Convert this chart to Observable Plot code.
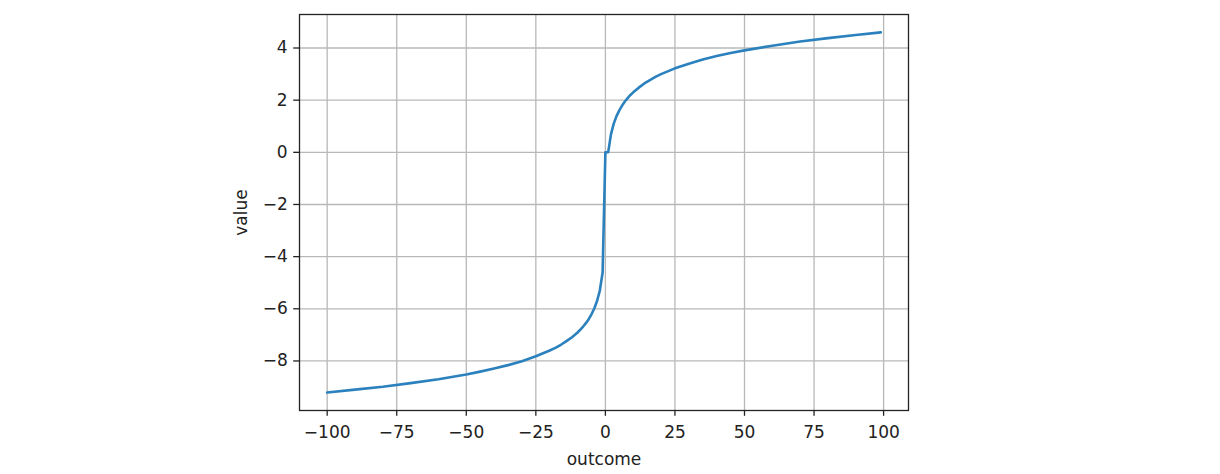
<!DOCTYPE html>
<html>
<head>
<meta charset="utf-8">
<script src="https://cdn.jsdelivr.net/npm/d3@7"></script>
<script src="https://cdn.jsdelivr.net/npm/@observablehq/plot@0.6"></script>
<style>
  html, body { margin: 0; padding: 0; background: #fff; }
  #chart { width: 1220px; height: 474px; }
</style>
</head>
<body>
<div id="chart"></div>
<script>
// Values
const outcomes = [-100,-90,-80,-70,-60,-50,-45,-40,-35,-30,-25,-20,-18,-16,-14,-12,-10,-9,-8,-7,-6,-5,-4,-3,-2,-1,0,1,2,3,4,5,6,7,8,9,10,12,14,16,18,20,25,30,35,40,45,50,60,70,80,90,99];
const values = [-9.21,-9.10,-8.99,-8.85,-8.70,-8.52,-8.41,-8.29,-8.16,-8.01,-7.82,-7.60,-7.50,-7.38,-7.24,-7.09,-6.91,-6.80,-6.68,-6.55,-6.40,-6.21,-5.99,-5.70,-5.30,-4.61,0,0,0.69,1.10,1.39,1.61,1.79,1.95,2.08,2.20,2.30,2.48,2.64,2.77,2.89,3.00,3.22,3.40,3.56,3.69,3.81,3.91,4.09,4.25,4.38,4.50,4.60];
const xTicks = [-100,-75,-50,-25,0,25,50,75,100];
const yTicks = [-8,-6,-4,-2,0,2,4];
const xLabel = "outcome";
const yLabel = "value";

const data = outcomes.map((o, i) => ({outcome: o, value: values[i]}));
const fmt = d => d < 0 ? "\u2212" + Math.abs(d) : String(d);

const chart = Plot.plot({
  width: 1220,
  height: 474,
  marginLeft: 299,
  marginRight: 312,
  marginTop: 14,
  marginBottom: 64,
  style: {background: "#fff", fontFamily: "'DejaVu Sans', sans-serif", fontSize: "17px", color: "#222"},
  x: {domain: [-109.95, 108.95]},
  y: {domain: [-9.9, 5.285]},
  marks: [
    Plot.gridX(xTicks, {stroke: "#b8b8b8", strokeOpacity: 1, strokeWidth: 1.3}),
    Plot.gridY(yTicks, {stroke: "#b8b8b8", strokeOpacity: 1, strokeWidth: 1.3}),
    Plot.line(data, {x: "outcome", y: "value", stroke: "#2b81bd", strokeWidth: 2.6, curve: "linear"}),
    Plot.frame({stroke: "#222", strokeWidth: 1.3}),
    Plot.axisX(xTicks, {tickSize: 5.8, tickPadding: 10, tickFormat: fmt, stroke: "#222", strokeWidth: 1.3,
      label: xLabel, labelAnchor: "center", labelArrow: "none", labelOffset: 54}),
    Plot.axisY(yTicks, {tickSize: 5.8, tickPadding: 6, tickFormat: fmt, stroke: "#222", strokeWidth: 1.3,
      label: yLabel, labelAnchor: "center", labelArrow: "none", labelOffset: 65})
  ]
});
document.getElementById("chart").appendChild(chart);
</script>
</body>
</html>
